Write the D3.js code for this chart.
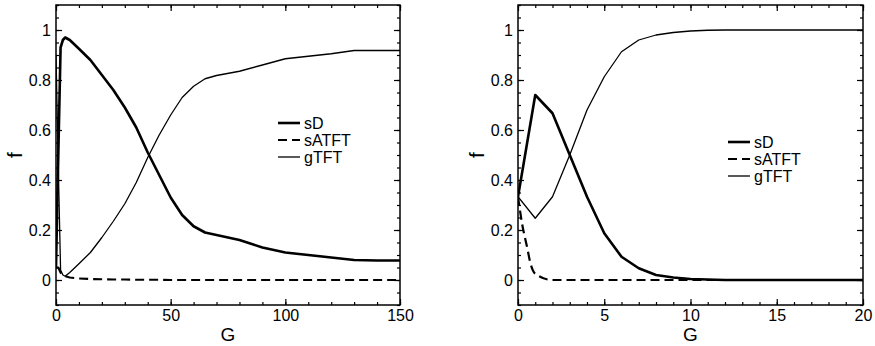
<!DOCTYPE html>
<html>
<head>
<meta charset="utf-8">
<script src="https://cdn.jsdelivr.net/npm/d3@7"></script>
<style>
  body { margin: 0; background: #fff; }
  text { font-family: "Liberation Sans", Arial, sans-serif; fill: #000; }
</style>
</head>
<body>
<div id="chart"></div>
<script>
// left panel (G = 0..150)
var leftG    = [0, 1, 2, 3, 4, 6, 10, 15, 20, 25, 30, 35, 40, 45, 50, 55, 60, 65, 70, 80, 90, 100, 110, 120, 130, 140, 150];
var leftSD   = [0.05, 0.5, 0.93, 0.96, 0.97, 0.96, 0.925, 0.88, 0.82, 0.76, 0.69, 0.61, 0.51, 0.42, 0.33, 0.26, 0.215, 0.19, 0.18, 0.16, 0.13, 0.11, 0.10, 0.09, 0.08, 0.078, 0.078];
var leftSATFT= [0.05, 0.05, 0.03, 0.02, 0.015, 0.01, 0.006, 0.004, 0.003, 0.002, 0.002, 0.001, 0.001, 0.001, 0, 0, 0, 0, 0, 0, 0, 0, 0, 0, 0, 0, 0];
var leftGTFT = [0.9, 0.45, 0.04, 0.02, 0.015, 0.03, 0.065, 0.11, 0.17, 0.235, 0.305, 0.39, 0.49, 0.58, 0.66, 0.73, 0.775, 0.805, 0.818, 0.835, 0.86, 0.885, 0.895, 0.905, 0.918, 0.918, 0.918];

// right panel (G = 0..20)
var rightG    = [0, 1, 2, 3, 4, 5, 6, 7, 8, 9, 10, 11, 12, 14, 16, 18, 20];
var rightSD   = [0.333, 0.74, 0.667, 0.5, 0.333, 0.187, 0.093, 0.047, 0.02, 0.01, 0.004, 0.002, 0, 0, 0, 0, 0];
var rightGTFT = [0.333, 0.247, 0.333, 0.5, 0.68, 0.813, 0.913, 0.96, 0.98, 0.99, 0.996, 0.999, 1, 1, 1, 1, 1];
var rightSATFTG = [0, 0.25, 0.5, 0.75, 1, 2, 5, 10, 15, 20];
var rightSATFT  = [0.333, 0.22, 0.14, 0.06, 0.025, 0, 0, 0, 0, 0];

var yTicks = [0, 0.2, 0.4, 0.6, 0.8, 1];
var legendNames = ["sD", "sATFT", "gTFT"];

var W = 875, H = 346;
var svg = d3.select("#chart").append("svg").attr("width", W).attr("height", H);

function panel(opt) {
    var x = d3.scaleLinear().domain([0, opt.xmax]).range([opt.x0, opt.x1]);
    var y = d3.scaleLinear().domain([-0.1, 1.1]).range([305, 5]);
    var g = svg.append("g");

    var majorX = d3.range(0, opt.xmax + 0.001, opt.xmajor);
    var minorX = d3.range(0, opt.xmax + 0.001, opt.xminor);
    var minorY = d3.range(-0.1, 1.1001, 0.05);

    // ticks: inward on all four sides
    function ax(axisFn, scale, pos, vals, size, labels) {
        var a = axisFn(scale).tickValues(vals).tickSize(size).tickPadding(6)
            .tickFormat(labels ? d3.format("") : "");
        var s = g.append("g").attr("transform", pos).call(a);
        s.select(".domain").remove();
        s.selectAll("line").attr("stroke", "#000").attr("stroke-width", 1.2);
        return s;
    }
    ax(d3.axisBottom, x, "translate(0,305)", minorX, -3, false);
    var bx = ax(d3.axisBottom, x, "translate(0,305)", majorX, -6, true);
    bx.selectAll("text").attr("font-size", 16).attr("dy", "0.75em").attr("y", 4);
    ax(d3.axisTop, x, "translate(0,5)", minorX, -3, false);
    ax(d3.axisTop, x, "translate(0,5)", majorX, -6, false);
    ax(d3.axisLeft, y, "translate(" + opt.x0 + ",0)", minorY, -3, false);
    var ly = ax(d3.axisLeft, y, "translate(" + opt.x0 + ",0)", yTicks, -6, true);
    ly.selectAll("text").attr("font-size", 16).attr("x", -5);
    ax(d3.axisRight, y, "translate(" + opt.x1 + ",0)", minorY, -3, false);
    ax(d3.axisRight, y, "translate(" + opt.x1 + ",0)", yTicks, -6, false);

    g.append("rect").attr("x", opt.x0).attr("y", 5)
        .attr("width", opt.x1 - opt.x0).attr("height", 300)
        .attr("fill", "none").attr("stroke", "#000").attr("stroke-width", 1.5);

    var clip = "clip" + opt.id;
    svg.append("clipPath").attr("id", clip).append("rect")
        .attr("x", opt.x0).attr("y", 5).attr("width", opt.x1 - opt.x0).attr("height", 300);

    var styles = [
        { w: 2.6, dash: null },
        { w: 2.2, dash: "9,5" },
        { w: 1.3, dash: null }
    ];
    var draw = [1, 2, 0]; // dashed first, thin, thick on top
    draw.forEach(function(k) {
        var s = opt.series[k];
        var line = d3.line()
            .x(function(d, i) { return x(s.g[i]); })
            .y(function(d) { return y(d); })
            .curve(k === 1 && opt.id === "r" ? d3.curveMonotoneX : d3.curveLinear);
        g.append("path").datum(s.v)
            .attr("clip-path", "url(#" + clip + ")")
            .attr("d", line)
            .attr("fill", "none").attr("stroke", "#000")
            .attr("stroke-width", styles[k].w)
            .attr("stroke-dasharray", styles[k].dash)
            .attr("stroke-linejoin", "round");
    });

    // legend
    legendNames.forEach(function(name, i) {
        var ry = opt.ly + i * 17;
        g.append("line").attr("x1", opt.lx).attr("x2", opt.lx + 22)
            .attr("y1", ry).attr("y2", ry)
            .attr("stroke", "#000").attr("stroke-width", styles[i].w)
            .attr("stroke-dasharray", styles[i].dash);
        g.append("text").attr("x", opt.lx + 26).attr("y", ry + 6)
            .attr("font-size", 16).text(name);
    });

    // axis titles
    g.append("text").attr("x", (opt.x0 + opt.x1) / 2).attr("y", 341)
        .attr("text-anchor", "middle").attr("font-size", 19).text("G");
    g.append("text")
        .attr("transform", "translate(" + opt.fx + ",155) rotate(-90)")
        .attr("text-anchor", "middle").attr("font-size", 21).text("f");
}

panel({
    id: "l", x0: 56, x1: 400, xmax: 150, xmajor: 50, xminor: 10,
    lx: 278, ly: 123, fx: 22,
    series: [
        { g: leftG, v: leftSD },
        { g: leftG, v: leftSATFT },
        { g: leftG, v: leftGTFT }
    ]
});

panel({
    id: "r", x0: 518, x1: 863, xmax: 20, xmajor: 5, xminor: 1,
    lx: 728, ly: 142, fx: 484,
    series: [
        { g: rightG, v: rightSD },
        { g: rightSATFTG, v: rightSATFT },
        { g: rightG, v: rightGTFT }
    ]
});
</script>
</body>
</html>
